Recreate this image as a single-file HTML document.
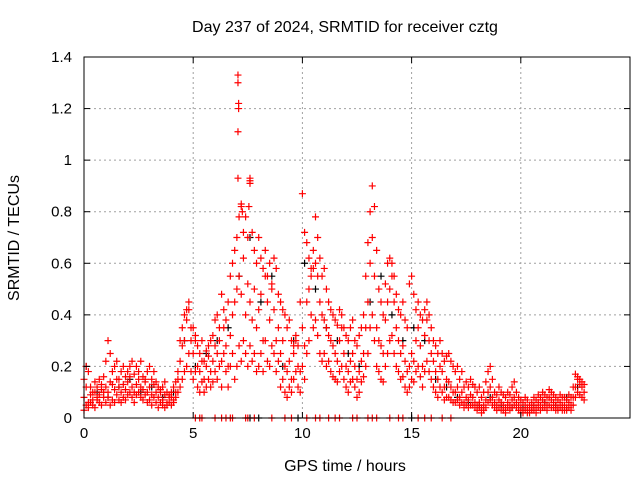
<!DOCTYPE html>
<html><head><meta charset="utf-8"><style>
body{margin:0;background:#fff;}
svg{display:block;font-family:"Liberation Sans",sans-serif;}
</style></head><body>
<svg id="chart" width="640" height="480">
<text x="345" y="32" text-anchor="middle" font-size="16">Day 237 of 2024, SRMTID for receiver cztg</text>
<text x="345" y="471" text-anchor="middle" font-size="16">GPS time / hours</text>
<text transform="translate(19,238) rotate(-90)" text-anchor="middle" font-size="16">SRMTID / TECUs</text>
<g id="grid"></g><g id="marks"></g><g id="axes"></g>
</svg>
<script>
const xTicks=[0,5,10,15,20];
const yTicks=[0,0.2,0.4,0.6,0.8,1,1.2,1.4];
const yTickLabels=["0","0.2","0.4","0.6","0.8","1","1.2","1.4"];
const redStep=0.1;
const redMid=[.08,.12,.06,.09,.07,.10,.08,.09,.11,.10,.12,.10,.14,.13,.11,.15,.12,.10,.13,.11,.14,.16,.12,.10,.13,.15,.12,.11,.14,.10,.12,.09,.13,.10,.08,.11,.07,.09,.06,.08,.10,.12,.14,.15,.22,.28,.30,.38,.42,.30,.25,.32,.20,.18,.22,.15,.20,.24,.18,.22,.28,.25,.30,.22,.35,.28,.20,.32,.40,.45,.50,.55,.48,.62,.40,.52,.45,.38,.50,.35,.42,.48,.30,.55,.45,.38,.50,.42,.30,.35,.25,.30,.20,.18,.22,.15,.25,.30,.20,.18,.35,.28,.45,.50,.55,.58,.60,.55,.45,.40,.38,.35,.32,.30,.28,.25,.22,.30,.35,.25,.20,.18,.22,.25,.20,.15,.18,.22,.25,.35,.45,.60,.70,.55,.35,.30,.28,.25,.38,.45,.50,.55,.45,.35,.30,.25,.28,.22,.18,.20,.25,.22,.30,.35,.28,.20,.32,.38,.30,.25,.22,.18,.15,.20,.18,.12,.15,.14,.12,.10,.10,.12,.08,.10,.06,.08,.07,.09,.08,.06,.05,.06,.04,.05,.07,.10,.12,.08,.06,.05,.07,.06,.05,.04,.06,.05,.07,.08,.06,.05,.04,.03,.05,.04,.03,.04,.05,.04,.06,.05,.07,.06,.05,.08,.07,.06,.05,.04,.06,.05,.05,.04,.06,.05,.08,.12,.15,.13,.12,.10];
const redHigh=[.15,.20,.18,.12,.10,.14,.12,.15,.13,.16,.22,.30,.25,.18,.20,.22,.15,.18,.20,.16,.18,.20,.22,.17,.20,.18,.22,.16,.15,.18,.20,.15,.18,.14,.12,.10,.12,.14,.10,.09,.08,.07,.10,.18,.30,.35,.40,.42,.45,.35,.35,.30,.28,.25,.30,.22,.26,.28,.30,.32,.38,.40,.35,.48,.42,.38,.45,.55,.60,.65,.70,.78,.82,.72,.78,.70,.92,.72,.65,.60,.70,.62,.58,.65,.55,.60,.52,.62,.58,.48,.45,.42,.40,.35,.38,.30,.28,.32,.28,.45,.87,.72,.68,.62,.58,.65,.78,.70,.62,.55,.58,.50,.45,.42,.40,.38,.36,.42,.40,.35,.32,.30,.35,.38,.30,.28,.32,.35,.40,.55,.68,.80,.90,.82,.65,.50,.45,.40,.52,.60,.62,.60,.55,.48,.42,.40,.45,.38,.35,.52,.55,.48,.42,.45,.40,.38,.42,.45,.40,.35,.30,.28,.25,.30,.25,.22,.24,.25,.22,.20,.18,.20,.15,.18,.12,.14,.12,.15,.13,.12,.10,.12,.08,.10,.14,.18,.20,.15,.10,.09,.12,.10,.09,.08,.10,.09,.12,.14,.10,.08,.07,.06,.08,.07,.05,.06,.08,.07,.09,.08,.10,.09,.08,.11,.10,.09,.08,.07,.09,.08,.08,.07,.09,.08,.12,.17,.16,.15,.14,.13];
const redLow=[.03,.05,.04,.06,.05,.04,.07,.06,.05,.08,.06,.08,.05,.07,.06,.09,.07,.06,.08,.07,.09,.10,.08,.06,.09,.10,.08,.07,.09,.06,.07,.05,.08,.06,.04,.06,.05,.04,.05,.06,.05,.06,.08,.10,.12,.15,.18,.20,.25,.18,.15,.18,.12,.10,.14,.10,.12,.15,.12,.14,.18,.15,.20,.12,.25,.18,.12,.20,.25,.15,.20,.28,.22,.30,.25,.20,.28,.22,.25,.18,.20,.25,.18,.30,.22,.20,.28,.25,.18,.22,.12,.15,.10,.08,.12,.10,.15,.18,.12,.10,.20,.15,.25,.30,.40,.35,.38,.32,.25,.22,.25,.20,.22,.18,.16,.15,.14,.18,.20,.15,.12,.10,.14,.15,.12,.08,.10,.14,.16,.20,.25,.35,.40,.30,.20,.18,.15,.14,.20,.25,.30,.32,.25,.20,.18,.15,.16,.12,.10,.12,.15,.14,.18,.20,.16,.12,.18,.22,.18,.15,.12,.10,.08,.12,.10,.07,.08,.08,.07,.06,.06,.07,.05,.06,.04,.05,.04,.05,.05,.04,.03,.04,.02,.03,.04,.06,.07,.05,.04,.03,.04,.03,.03,.02,.04,.03,.04,.05,.04,.03,.02,.02,.03,.02,.02,.03,.03,.02,.04,.03,.04,.04,.03,.05,.04,.04,.03,.03,.04,.03,.03,.03,.04,.03,.05,.08,.10,.09,.08,.07];
const spikeTimes=[7.05,7.05,7.08,7.08,7.05,7.05,7.6,7.6,7.55,7.2,7.25];
const spikeValues=[1.33,1.30,1.22,1.20,1.11,.93,.93,.91,.82,.83,.80];
const redZeroTimes=[5.1,5.3,5.4,6.0,6.3,6.5,6.7,6.8,7.4,7.5,7.8,8.6,9.2,9.5,10.2,10.6,10.8,11.2,11.5,11.7,12.3,12.5,13.0,13.2,13.4,14.0,14.4,14.6,15.3,15.6,15.9,16.4,16.8];
const blackStep=0.5;
const blackValues=[.20,.10,.08,.12,.15,.10,.12,.08,.10,.30,.20,.25,.30,.35,.55,.70,.45,.55,.20,.30,.60,.50,.35,.30,.25,.20,.45,.55,.40,.30,.35,.30,.15,.12,.08,.06,.05,.08,.05,.04,.04,.05,.06,.05,.08,.12];
const blackZeroTimes=[7.6,8.0,9.8,15.0];

const L=84,R=630,T=57,B=418;
const xs=t=>L+t*(R-L)/25;
const ys=v=>B-v*(B-T)/1.4;
const NS="http://www.w3.org/2000/svg";
function mk(tag,attrs,parent){const e=document.createElementNS(NS,tag);for(const k in attrs)e.setAttribute(k,attrs[k]);parent.appendChild(e);return e;}
const grid=document.getElementById('grid'),marks=document.getElementById('marks'),axes=document.getElementById('axes');
xTicks.forEach(t=>{
 if(t>0){const g=mk('line',{x1:xs(t),x2:xs(t),y1:T,y2:B,stroke:'#a0a0a0','stroke-dasharray':'2,3'},grid);
 
 }
 mk('line',{x1:xs(t),x2:xs(t),y1:B,y2:B-6,stroke:'#000'},axes);
 mk('line',{x1:xs(t),x2:xs(t),y1:T,y2:T+6,stroke:'#000'},axes);
 const tx=mk('text',{x:xs(t),y:B+20,'text-anchor':'middle','font-size':'15'},axes);tx.textContent=t;
 
 
});
yTicks.forEach((v,i)=>{
 if(v>0&&v<1.4){const g=mk('line',{x1:L,x2:R,y1:ys(v),y2:ys(v),stroke:'#a0a0a0','stroke-dasharray':'2,3'},grid);
 
 }
 mk('line',{x1:L,x2:L+6,y1:ys(v),y2:ys(v),stroke:'#000'},axes);
 mk('line',{x1:R,x2:R-6,y1:ys(v),y2:ys(v),stroke:'#000'},axes);
 const tx=mk('text',{x:L-12,y:ys(v)+5,'text-anchor':'end','font-size':'15'},axes);tx.textContent=yTickLabels[i];
 
 
});
const frame=mk('rect',{x:L,y:T,width:R-L,height:B-T,fill:'none',stroke:'#000'},axes);


function cross(t,v,col){
 const x=xs(t),y=ys(v);
 const p=mk('path',{d:`M${x-3.5},${y}h7M${x},${y-3.5}v7`,stroke:col,'stroke-width':'1.2',fill:'none'},marks);
 
 
}
blackValues.forEach((v,i)=>cross(i*blackStep+0.1,v,'#000'));
blackZeroTimes.forEach(t=>cross(t,0,'#000'));
[redMid,redHigh,redLow].forEach(arr=>arr.forEach((v,i)=>cross(i*redStep,v,'#f00')));
spikeTimes.forEach((t,i)=>cross(t,spikeValues[i],'#f00'));
redZeroTimes.forEach(t=>cross(t,0,'#f00'));
</script>
</body></html>
